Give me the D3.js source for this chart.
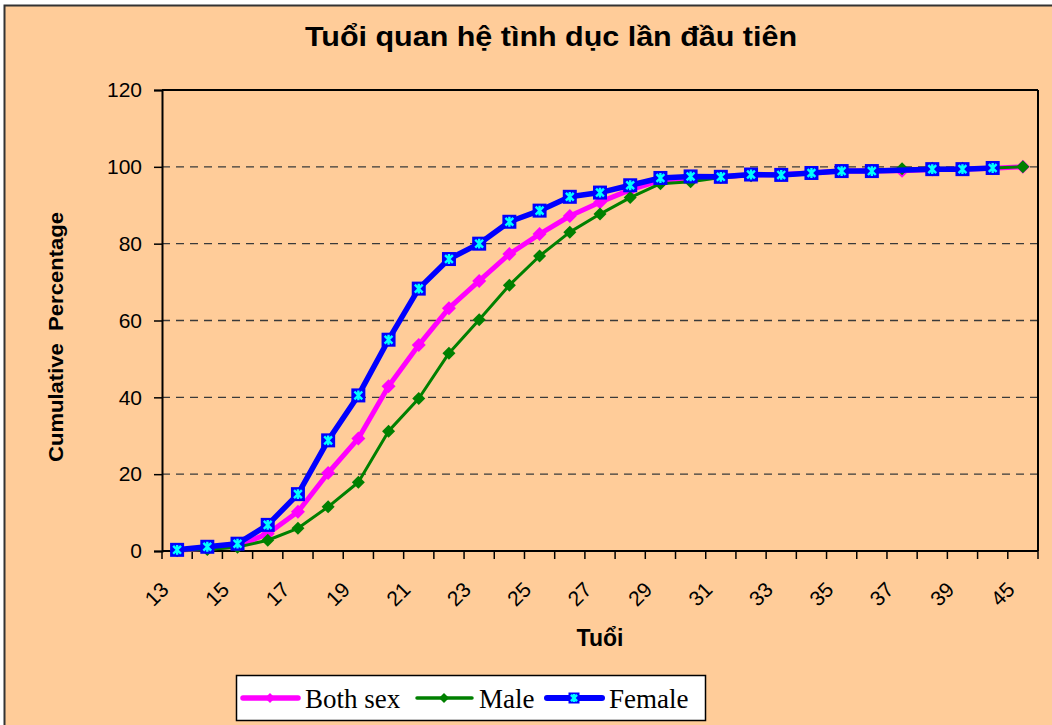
<!doctype html>
<html>
<head>
<meta charset="utf-8">
<script src="https://d3js.org/d3.v7.min.js"></script>
<style>
  body { margin: 0; background: #fff; }
  svg text { font-family: "Liberation Sans", Arial, sans-serif; fill: #000; }
</style>
</head>
<body>
<script>
// categories (age) and cumulative percentages
var ages = ["13","14","15","16","17","18","19","20","21","22","23","24","25","26","27","28",
            "29","30","31","32","33","34","35","36","37","38","39","40","45"];
var bothSex = [0.2,0.7,1.3,4.5,10.2,20.3,29.3,42.9,53.6,63.2,70.3,77.3,82.5,87.2,90.8,94.0,
               96.5,97.0,97.4,97.9,98.0,98.4,98.9,98.9,99.0,99.3,99.4,99.6,100];
var male = [0.1,0.4,1.0,2.8,5.9,11.5,17.9,31.2,39.7,51.5,60.2,69.2,76.8,83.0,87.7,92.0,
            95.6,96.1,97.2,97.7,97.9,98.4,98.8,98.9,99.5,99.6,99.6,99.7,100];
var female = [0.3,1.1,1.9,6.8,14.8,28.8,40.5,55.0,68.3,76.0,80.0,85.7,88.6,92.2,93.3,95.2,
              97.1,97.5,97.4,98.0,97.9,98.4,98.9,98.9,null,99.4,99.4,99.7,null];
var yTicks = [0,20,40,60,80,100,120];
var xLabels = ["13","15","17","19","21","23","25","27","29","31","33","35","37","39","45"];

var W = 1052, H = 725;
var plotL = 162, plotR = 1038, plotT = 90, plotB = 551;

var svg = d3.select("body").append("svg")
    .attr("width", W).attr("height", H);

// chart area
svg.append("rect").attr("x", 4.5).attr("y", 5.5)
   .attr("width", 1100).attr("height", 800)
   .attr("fill", "#FFCC99").attr("stroke", "#333").attr("stroke-width", 2);

var x = d3.scaleBand().domain(ages).range([plotL, plotR]).padding(0);
var y = d3.scaleLinear().domain([0, 120]).range([plotB, plotT]);

// gridlines
svg.append("g").selectAll("line")
   .data(yTicks.filter(function(d) { return d > 0 && d < 120; }))
   .enter().append("line")
   .attr("x1", plotL).attr("x2", plotR)
   .attr("y1", function(d) { return y(d); }).attr("y2", function(d) { return y(d); })
   .attr("stroke", "#3a3a3a").attr("stroke-width", 1.3).attr("stroke-dasharray", "8,6");

// plot border top / right
svg.append("line").attr("x1", plotL).attr("x2", plotR).attr("y1", plotT).attr("y2", plotT)
   .attr("stroke", "#000").attr("stroke-width", 2);
svg.append("line").attr("x1", plotR).attr("x2", plotR).attr("y1", plotT).attr("y2", plotB)
   .attr("stroke", "#000").attr("stroke-width", 2);

// y axis
var yAxis = svg.append("g").attr("transform", "translate(" + plotL + ",0)")
   .call(d3.axisLeft(y).tickValues(yTicks).tickSize(8).tickPadding(12));
yAxis.select(".domain").attr("stroke", "#000").attr("stroke-width", 2);
yAxis.selectAll(".tick line").attr("stroke", "#000").attr("stroke-width", 1.5);
yAxis.selectAll("text").style("font-size", "21px").attr("fill", "#000");

// x axis line + ticks at category boundaries
svg.append("line").attr("x1", plotL).attr("x2", plotR).attr("y1", plotB).attr("y2", plotB)
   .attr("stroke", "#000").attr("stroke-width", 2);
svg.append("g").selectAll("line")
   .data(ages.concat(["end"]))
   .enter().append("line")
   .attr("x1", function(d) { return d === "end" ? x.range()[1] : x(d); })
   .attr("x2", function(d) { return d === "end" ? x.range()[1] : x(d); })
   .attr("y1", plotB).attr("y2", plotB + 8)
   .attr("stroke", "#000").attr("stroke-width", 1.5);

svg.append("g").selectAll("text")
   .data(xLabels)
   .enter().append("text")
   .attr("transform", function(d) {
       return "translate(" + (x(d) + x.bandwidth() / 2 - 7) + "," + 591 + ") rotate(-45)";
   })
   .attr("text-anchor", "end")
   .style("font-size", "21px")
   .text(function(d) { return d; });

// titles
svg.append("text").attr("x", 551).attr("y", 46).attr("text-anchor", "middle")
   .attr("textLength", 492).attr("lengthAdjust", "spacingAndGlyphs")
   .style("font-size", "27px").style("font-weight", "bold")
   .text("Tuổi quan hệ tình dục lần đầu tiên");
svg.append("text").attr("x", 600).attr("y", 646).attr("text-anchor", "middle")
   .style("font-size", "23px").style("font-weight", "bold")
   .text("Tuổi");
svg.append("text").attr("transform", "translate(63,337) rotate(-90)")
   .attr("text-anchor", "middle")
   .attr("textLength", 250).attr("lengthAdjust", "spacingAndGlyphs")
   .style("white-space", "pre")
   .style("font-size", "20px").style("font-weight", "bold")
   .text("Cumulative  Percentage");

// series
var series = [
  { name: "Both sex", values: bothSex, color: "#FF00FF", width: 5, marker: "diamond", size: 14 },
  { name: "Male", values: male, color: "#008000", width: 3, marker: "diamond", size: 13 },
  { name: "Female", values: female, color: "#0000FF", width: 5.5, marker: "square", size: 14 }
];

var line = d3.line()
    .x(function(d) { return x(d.age) + x.bandwidth() / 2; })
    .y(function(d) { return y(d.v); });

function drawMarker(g, s, size) {
  if (s.marker === "diamond") {
    var h = size / 2;
    g.append("path").attr("d", "M0," + (-h) + "L" + h + ",0L0," + h + "L" + (-h) + ",0Z")
     .attr("fill", s.color);
  } else {
    var h2 = size / 2, a = size * 0.28;
    g.append("rect").attr("x", -h2).attr("y", -h2).attr("width", size).attr("height", size)
     .attr("fill", "#0000FF");
    g.append("path")
     .attr("d", "M" + (-a) + "," + (-a) + "L" + a + "," + a + "M" + a + "," + (-a) + "L" + (-a) + "," + a +
                "M0," + (-a - 1) + "L0," + (a + 1))
     .attr("stroke", "#00FFFF").attr("stroke-width", 2.4);
  }
}

series.forEach(function(s) {
  var pts = ages.map(function(a, i) { return { age: a, v: s.values[i] }; })
                .filter(function(d) { return d.v != null; });
  var g = svg.append("g");
  g.append("path").datum(pts).attr("d", line)
   .attr("fill", "none").attr("stroke", s.color).attr("stroke-width", s.width)
   .attr("stroke-linejoin", "round");
  g.selectAll("g.m").data(pts).enter().append("g").attr("class", "m")
   .attr("transform", function(d) {
       return "translate(" + (x(d.age) + x.bandwidth() / 2) + "," + y(d.v) + ")";
   })
   .each(function() { drawMarker(d3.select(this), s, s.size); });
});

// legend
var lg = svg.append("g");
lg.append("rect").attr("x", 236.5).attr("y", 675.5).attr("width", 469).attr("height", 45)
  .attr("fill", "#fff").attr("stroke", "#000").attr("stroke-width", 1.5);
var legendPos = [243, 417, 547];
series.forEach(function(s, i) {
  var x0 = legendPos[i];
  lg.append("line").attr("x1", x0).attr("x2", x0 + 55).attr("y1", 698).attr("y2", 698)
    .attr("stroke", s.color).attr("stroke-width", s.width + 0.5).attr("stroke-linecap", "round");
  var mg = lg.append("g").attr("transform", "translate(" + (x0 + 27) + ",698)");
  drawMarker(mg, s, s.marker === "square" ? 11 : 10);
  lg.append("text").attr("x", x0 + 62).attr("y", 708)
    .style("font-family", "'Liberation Serif', 'Times New Roman', serif")
    .style("font-size", "27px")
    .text(s.name);
});
</script>
</body>
</html>
